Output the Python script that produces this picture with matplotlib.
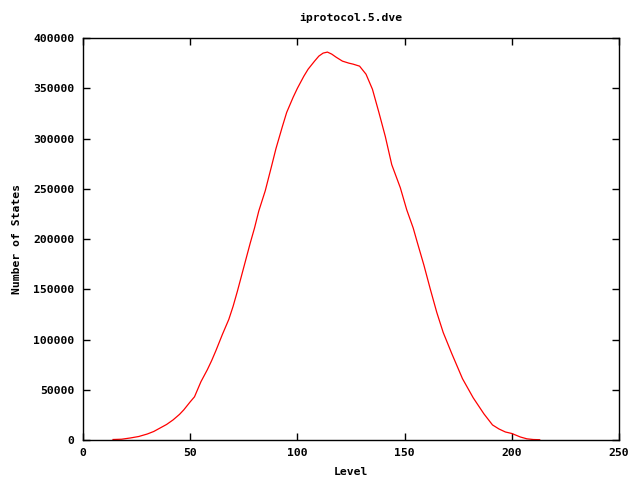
import matplotlib
matplotlib.use("Agg")
import matplotlib.pyplot as plt

# values
level = [14, 18, 22, 26, 30, 33, 36, 39, 42, 45, 47, 50, 52, 55, 58, 60, 62, 65, 68, 70,
         72, 75, 78, 80, 82, 85, 88, 90, 93, 95, 98, 100, 103, 105, 108, 110, 112, 114,
         116, 118, 121, 124, 126, 129, 132, 135, 138, 141, 144, 148, 151, 154, 156, 159,
         162, 165, 168, 172, 177, 182, 187, 191, 194, 197, 200, 204, 207, 210, 213]
states = [500, 800, 2000, 3500, 6000, 8500, 12000, 15500, 20000, 25500, 30000, 38000,
          43000, 58000, 70000, 79000, 89000, 105000, 120000, 133000, 148000, 172000,
          196000, 211000, 228000, 248000, 273000, 290000, 312000, 326000, 341000, 350000,
          362000, 369000, 377000, 382000, 385000, 386000, 384000, 381000, 377000, 375000,
          374000, 372000, 364000, 349000, 326000, 302000, 274000, 251000, 229000, 211000,
          196000, 174000, 150000, 127000, 107000, 86000, 61000, 42000, 26000, 15000, 11000,
          8000, 6500, 3000, 1200, 500, 300]

plt.rcParams['font.family'] = ['DejaVu Sans Mono']
plt.rcParams['font.weight'] = 'bold'
plt.rcParams['font.size'] = 8.2

fig = plt.figure(figsize=(6.4, 4.8), dpi=100)
ax = fig.add_axes([0.1297, 0.0833, 0.8375, 0.8375])
ax.plot(level, states, color='#ff0000', lw=0.9)

ax.set_xlim(0, 250)
ax.set_ylim(0, 400000)
ax.set_xticks(range(0, 251, 50))
ax.set_yticks(range(0, 400001, 50000))
ax.tick_params(direction='in', length=5, width=1, top=True, right=True, pad=6)
for s in ax.spines.values():
    s.set_linewidth(1)

ax.set_title('iprotocol.5.dve', fontsize=8.2, fontweight='bold', pad=12)
ax.set_xlabel('Level', fontweight='bold', labelpad=6)
ax.set_ylabel('Number of States', fontweight='bold', labelpad=8)

fig.savefig('out.png', dpi=100)
